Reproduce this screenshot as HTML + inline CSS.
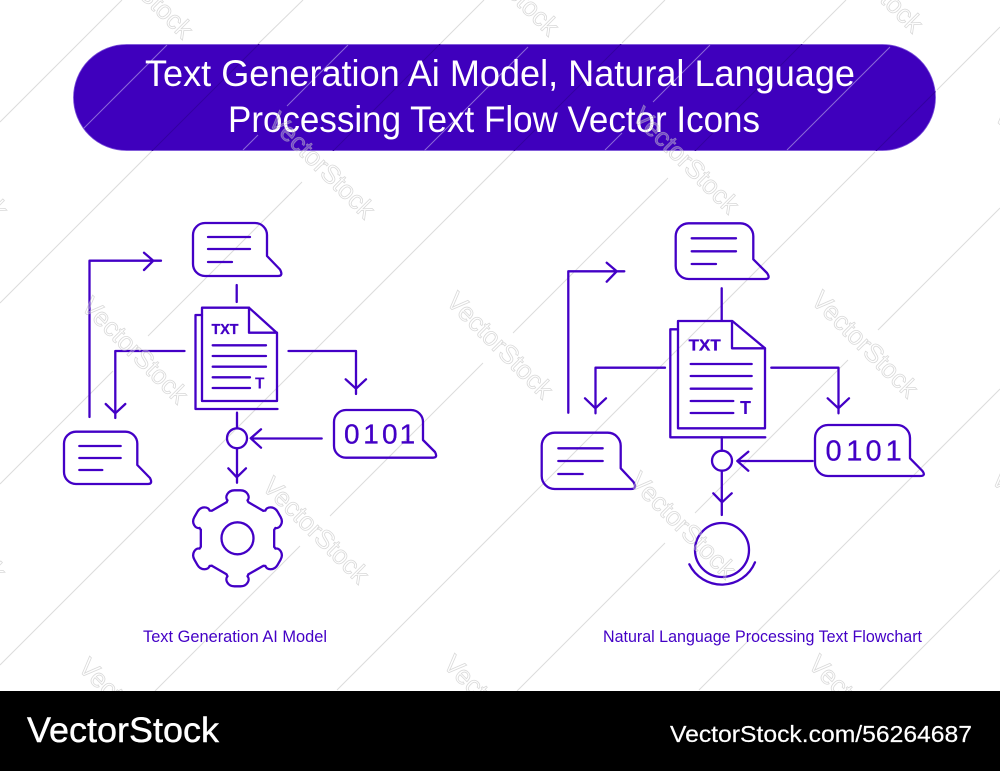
<!DOCTYPE html>
<html><head><meta charset="utf-8"><style>
html,body{margin:0;padding:0;background:#fff;width:1000px;height:771px;overflow:hidden}
svg{display:block;overflow:hidden}
text{font-family:"Liberation Sans",sans-serif}
.d{fill:none;stroke:#4300c6;stroke-linecap:round;stroke-linejoin:round}
.l line{stroke:#dcdcdc;stroke-width:1}
.dk line{stroke:#3400a0;stroke-width:1}
.b line{stroke:#8c6ad8;stroke-width:1}
.wm text{font-size:26px;text-anchor:middle}
</style></head><body>
<svg width="1000" height="771" viewBox="0 0 1000 771" xmlns="http://www.w3.org/2000/svg">
<defs>
<clipPath id="pc"><rect x="73" y="44" width="863" height="107" rx="53.5"/></clipPath>
</defs>
<rect width="1000" height="771" fill="#fff"/>

<!-- watermark lines -->
<g class="l">
<line x1="0" y1="122" x2="122" y2="0"/>
<line x1="0" y1="303" x2="152" y2="151"/><line x1="258" y1="44" x2="303" y2="0"/>
<line x1="0" y1="484" x2="113" y2="371"/><line x1="148" y1="336" x2="302" y2="182"/><line x1="440" y1="44" x2="484" y2="0"/>
<line x1="0" y1="665" x2="515" y2="150"/><line x1="622" y1="43" x2="665" y2="0"/>
<line x1="155" y1="691" x2="300" y2="546"/><line x1="330" y1="516" x2="483" y2="363"/><line x1="513" y1="333" x2="668" y2="178"/><line x1="803" y1="43" x2="846" y2="0"/>
<line x1="337" y1="690" x2="875" y2="152"/><line x1="937" y1="90" x2="1000" y2="27"/>
<line x1="517" y1="691" x2="665" y2="543"/><line x1="695" y1="513" x2="848" y2="360"/><line x1="878" y1="330" x2="1000" y2="208"/>
<line x1="699" y1="690" x2="1000" y2="389"/>
<line x1="880" y1="690" x2="1000" y2="570"/>
</g>

<!-- header -->
<rect x="73.5" y="44.5" width="862" height="106" rx="53" fill="#3f00bd" stroke="#7a50d8" stroke-width=".8"/>
<g clip-path="url(#pc)">
<g class="dk"><line x1="303" y1="0" x2="0" y2="303"/><line x1="484" y1="0" x2="300" y2="184"/><line x1="665" y1="0" x2="500" y2="165"/><line x1="846" y1="0" x2="660" y2="186"/><line x1="1027" y1="0" x2="850" y2="177"/></g>
<g class="b">
<line x1="83" y1="129" x2="167" y2="45"/>
<line x1="243" y1="150" x2="258" y2="135"/><line x1="287" y1="106" x2="348" y2="45"/>
<line x1="423" y1="152" x2="528" y2="47"/>
<line x1="605" y1="150" x2="622" y2="133"/><line x1="653" y1="102" x2="710" y2="45"/>
<line x1="787" y1="150" x2="890" y2="47"/>
</g>
</g>
<text x="145" y="86" font-size="37" fill="#fff" textLength="710" lengthAdjust="spacingAndGlyphs">Text Generation Ai Model, Natural Language</text>
<text x="228" y="132" font-size="37" fill="#fff" textLength="532" lengthAdjust="spacingAndGlyphs">Processing Text Flow Vector Icons</text>

<!-- left diagram -->
<g class="d" stroke-width="2.3">
<path d="M205 223H255A12 12 0 0 1 267 235V256L280 269.5Q283.5 276 278 276H205A12 12 0 0 1 193 264V235A12 12 0 0 1 205 223Z"/>
<path d="M208 237H250M208 249H250M208 262H232"/>
<path d="M89.5 417V260.7H161M144 252.7L153.3 260.7L144 270"/>
<path d="M236.7 285V302"/>
<path d="M202 307.7H249L277 333V401H202Z"/>
<path d="M249 307.7V332.7H277"/>
<path d="M202 315H195.5V409H277.5"/>
<path d="M212.7 345.3H266M212.7 356H266M212.7 366.7H266M212.7 377.3H250M212.7 388H250"/>
<path d="M184.5 351H115.3V418M105.7 404L115.3 413.3L125.3 404"/>
<path d="M288.5 351H356V394M345.7 379.3L356 388.7L366 379.3"/>
<path d="M237 412.7V428.3M237 448.3V482.7M228.3 468.3L236.8 477.3L246 468.3"/>
<circle cx="237" cy="438.3" r="10"/>
<path d="M321.7 438.5H251M261 429.3L250.7 438.3L261 447.7"/>
<path d="M346 410H411A12 12 0 0 1 423 422V440L435 452Q438 457.7 433 457.7H346A12 12 0 0 1 334 445.7V422A12 12 0 0 1 346 410Z"/>
<path d="M76 431.7H125A12 12 0 0 1 137.3 444V465L150 478Q153 484 148 484H76A12 12 0 0 1 64 472V444A12 12 0 0 1 76 431.7Z"/>
<path d="M79.3 446H120.7M79.3 458H120.7M79.3 470H102.3"/>
<g transform="translate(237.5,538.3)">
<circle r="16"/>
<path id="t" d="M-11 -36L-10 -38C-13 -41 -10 -48 -3 -48H3C10 -48 13 -41 10 -38L11 -36L25.7 -27.5"/>
<use href="#t" transform="rotate(60)"/><use href="#t" transform="rotate(120)"/><use href="#t" transform="rotate(180)"/><use href="#t" transform="rotate(240)"/><use href="#t" transform="rotate(300)"/>
</g>
</g>
<text x="211.5" y="334" font-size="14.5" font-weight="bold" fill="#4300c6" stroke="#4300c6" stroke-width=".3" textLength="27" lengthAdjust="spacingAndGlyphs">TXT</text>
<text x="255" y="388.3" font-size="15.5" font-weight="bold" fill="#4300c6">T</text>
<text x="344 363.3 382 399.6" y="443.3" font-size="28" fill="#4300c6" stroke="#4300c6" stroke-width=".3">0101</text>

<!-- right diagram -->
<g class="d" stroke-width="2.3">
<path d="M688.7 223.3H740.3A13 13 0 0 1 753.3 236.3V259.3L767 273Q771 279 765 279H688.7A13 13 0 0 1 675.7 266V236.3A13 13 0 0 1 688.7 223.3Z"/>
<path d="M691.7 238.3H736M691.7 251.3H736M691.7 264H716"/>
<path d="M568.3 412.7V271.3H624.3M606.7 262.7L616.7 271.3L606.7 281.7"/>
<path d="M721.7 288.3V320"/>
<path d="M678 321H732.3L765 348.3V428.3H678Z"/>
<path d="M732 321V348.3H765"/>
<path d="M678 329.3H670.3V437.3H765.3"/>
<path d="M690.7 364H751.7M690.7 376H751.7M690.7 388.7H751.7M690.7 401H733.3M690.7 413H733.3"/>
<path d="M665 367.7H595.5V413.3M585 398.3L595.4 408.3L606 398.3"/>
<path d="M771.3 367.7H838.5V413.3M827.7 398.3L838.4 408.3L849 398.3"/>
<path d="M721.8 437.3V450.7M721.8 470.7V515M713.3 493.3L722 502.3L731.7 493.3"/>
<circle cx="722" cy="460.7" r="10"/>
<path d="M812.7 461H738M748.3 451.7L737.3 461L748.3 470.7"/>
<path d="M828 425H897A13 13 0 0 1 910 438V458.3L922 470.5Q926.5 476 920 476H828A13 13 0 0 1 815 463V438A13 13 0 0 1 828 425Z"/>
<path d="M554.7 432.7H607.7A13 13 0 0 1 620.7 445.7V468.3L633.5 482Q637.5 489 631 489H554.7A13 13 0 0 1 541.7 476V445.7A13 13 0 0 1 554.7 432.7Z"/>
<path d="M558.3 448.3H602.7M558.3 461H602.7M558.3 474H582.7"/>
<circle cx="722" cy="550" r="27"/>
<path d="M689.3 564.3A36 36 0 0 0 755 562.3"/>
</g>
<text x="688.7" y="350.3" font-size="15.5" font-weight="bold" fill="#4300c6" stroke="#4300c6" stroke-width=".3" textLength="32" lengthAdjust="spacingAndGlyphs">TXT</text>
<text x="740" y="414" font-size="18" font-weight="bold" fill="#4300c6">T</text>
<text x="825.5 846.3 865.5 885.6" y="460.7" font-size="29" fill="#4300c6" stroke="#4300c6" stroke-width=".3">0101</text>

<!-- captions -->
<text x="143" y="642" font-size="16.5" fill="#4300c6" textLength="184" lengthAdjust="spacingAndGlyphs">Text Generation AI Model</text>
<text x="603" y="642" font-size="16.5" fill="#4300c6" textLength="319" lengthAdjust="spacingAndGlyphs">Natural Language Processing Text Flowchart</text>

<!-- watermark text -->
<g class="wm" fill="rgba(255,255,255,.28)" stroke="rgba(185,185,185,.55)" stroke-width=".8">
<text transform="translate(140,-15) rotate(45)" y="9" textLength="138">VectorStock</text>
<text transform="translate(506,-18) rotate(45)" y="9" textLength="138">VectorStock</text>
<text transform="translate(870,-21) rotate(45)" y="9" textLength="138">VectorStock</text>
<text transform="translate(-45,165) rotate(45)" y="9" textLength="138">VectorStock</text>
<text transform="translate(322,165) rotate(45)" y="9" textLength="138">VectorStock</text>
<text transform="translate(686,160) rotate(45)" y="9" textLength="138">VectorStock</text>
<text transform="translate(1048,160) rotate(45)" y="9" textLength="138">VectorStock</text>
<text transform="translate(135,350) rotate(45)" y="9" textLength="138">VectorStock</text>
<text transform="translate(500,345) rotate(45)" y="9" textLength="138">VectorStock</text>
<text transform="translate(865,344) rotate(45)" y="9" textLength="138">VectorStock</text>
<text transform="translate(-47,527) rotate(45)" y="9" textLength="138">VectorStock</text>
<text transform="translate(316,530) rotate(45)" y="9" textLength="138">VectorStock</text>
<text transform="translate(683,525) rotate(45)" y="9" textLength="138">VectorStock</text>
<text transform="translate(1045,523) rotate(45)" y="9" textLength="138">VectorStock</text>
<text transform="translate(132,711) rotate(45)" y="9" textLength="138">VectorStock</text>
<text transform="translate(497,708) rotate(45)" y="9" textLength="138">VectorStock</text>
<text transform="translate(862,708) rotate(45)" y="9" textLength="138">VectorStock</text>
</g>

<!-- footer -->
<rect x="0" y="691" width="1000" height="80" fill="#000"/>
<text x="27" y="742" font-size="35" fill="#fff" stroke="#fff" stroke-width=".4" textLength="192" lengthAdjust="spacingAndGlyphs">VectorStock</text>
<text x="670" y="742" font-size="23" fill="#fff" stroke="#fff" stroke-width=".2" textLength="302" lengthAdjust="spacingAndGlyphs">VectorStock.com/56264687</text>
</svg>
</body></html>
